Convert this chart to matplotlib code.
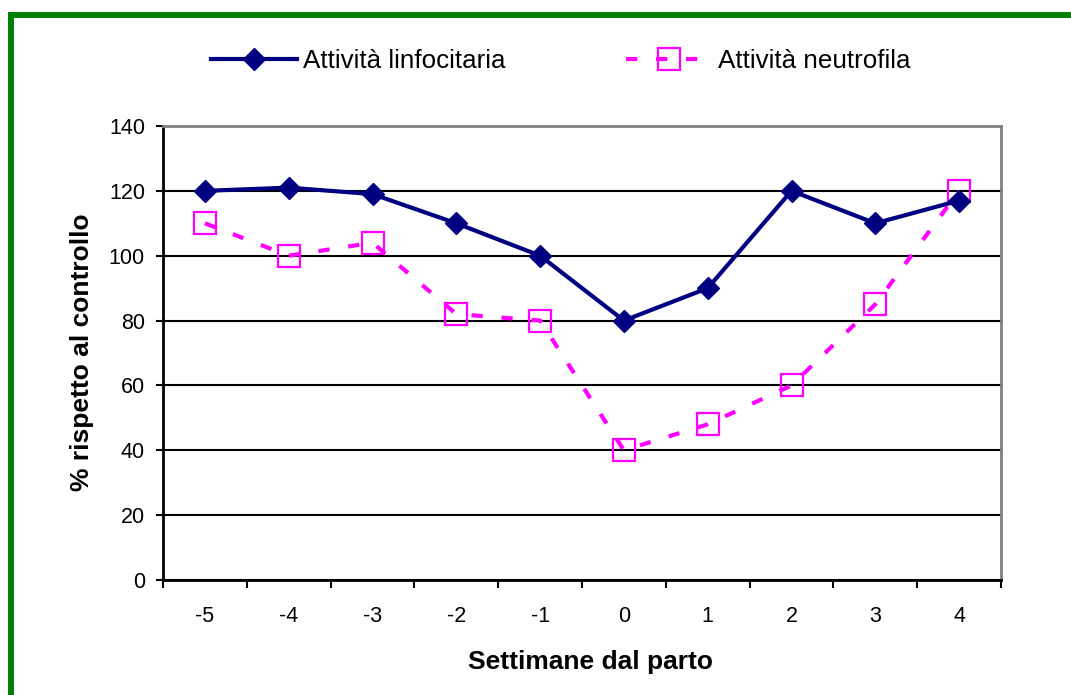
import matplotlib
matplotlib.use("Agg")
import matplotlib.pyplot as plt
from matplotlib.lines import Line2D
import numpy as np

plt.rcParams['font.family'] = ['Liberation Sans', 'DejaVu Sans']

weeks = ["-5", "-4", "-3", "-2", "-1", "0", "1", "2", "3", "4"]
linfocitaria = [120, 121, 119, 110, 100, 80, 90, 120, 110, 117]
neutrofila = [110, 100, 104, 82, 80, 40, 48, 60, 85, 120]
yticks = [0, 20, 40, 60, 80, 100, 120, 140]

NAVY = "#000080"
MAG = "#FF00FF"

W, H = 1071, 695
fig = plt.figure(figsize=(W / 100, H / 100), dpi=100)
ax = fig.add_axes([163 / W, 1 - 580 / H, (1001 - 163) / W, (580 - 126) / H])

x = np.arange(len(weeks))

dash = (0, (2.7, 4.5))
ax.plot(x, neutrofila, color=MAG, lw=3, ls=dash, dash_capstyle='butt',
        marker='s', ms=15.5, mfc='none', mec=MAG, mew=1.6, zorder=3)

ax.plot(x, linfocitaria, color=NAVY, lw=3, marker='D', ms=11.7,
        mfc=NAVY, mec=NAVY, zorder=4, solid_joinstyle='round')

ax.set_ylim(0, 140)
ax.set_xlim(-0.5, len(weeks) - 0.5)
ax.set_yticks(yticks)
ax.set_yticklabels([str(v) for v in yticks], fontsize=15.5)
ax.set_xticks(np.arange(-0.5, len(weeks), 1.0))
ax.set_xticklabels([])
ax.set_xticks(x, minor=True)
ax.set_xticklabels(weeks, minor=True, fontsize=15.5)
ax.tick_params(axis='x', which='major', direction='out', length=6, width=1.5, color='black')
ax.tick_params(axis='x', which='minor', length=0, pad=18.5)
ax.tick_params(axis='y', direction='out', length=5, width=1.5, pad=8)

ax.yaxis.grid(True, color='black', lw=1.5)
ax.set_axisbelow(True)
for s in ['left', 'bottom']:
    ax.spines[s].set_color('black')
    ax.spines[s].set_linewidth(2)
for s in ['top', 'right']:
    ax.spines[s].set_color('#808080')
    ax.spines[s].set_linewidth(2)

fig.text(82 / W, 1 - 352 / H, "% rispetto al controllo", rotation=90,
         ha='center', va='center', fontsize=19, fontweight='bold')
fig.text(591 / W, 1 - 662 / H, "Settimane dal parto",
         ha='center', va='center', fontsize=19, fontweight='bold')

h1 = Line2D([], [], color=NAVY, lw=3, marker='D', ms=11.7, mfc=NAVY, mec=NAVY)
h2 = Line2D([], [], color=MAG, lw=3, ls=dash, dash_capstyle='butt', marker='s',
            ms=15.5, mfc='none', mec=MAG, mew=1.6)
fig.legend([h1, h2], ["Attività linfocitaria", "Attività neutrofila"],
           loc='center', bbox_to_anchor=(561 / W, 1 - 61 / H), ncol=2,
           frameon=False, fontsize=18.7, handlelength=3.3, handletextpad=0.23,
           columnspacing=4.65)

# green frame (top and left edges)
fig.add_artist(Line2D([11 / W, 11 / W], [0, 1 - 14.5 / H], color='#008000', lw=4.3,
                      transform=fig.transFigure, solid_capstyle='projecting'))
fig.add_artist(Line2D([11 / W, 1], [1 - 14.5 / H, 1 - 14.5 / H], color='#008000', lw=4.3,
                      transform=fig.transFigure, solid_capstyle='projecting'))

fig.savefig("out.png", dpi=100)
